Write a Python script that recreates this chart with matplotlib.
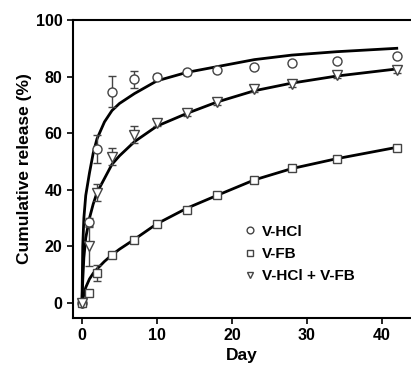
import numpy as np
import matplotlib
matplotlib.use('Agg')
import matplotlib.pyplot as plt

plt.rcParams['font.family'] = ['Liberation Sans', 'DejaVu Sans']
plt.rcParams['font.weight'] = 'bold'

# measured points
days = [0, 1, 2, 4, 7, 10, 14, 18, 23, 28, 34, 42]
hcl = [0, 28.6, 54.4, 74.6, 79, 80, 81.5, 82.3, 83.4, 84.8, 85.5, 87.3]
hcl_err = [0, 1.5, 5, 5.5, 3, 1, 0.8, 0.8, 0.8, 0.8, 0.8, 0.8]
fb = [0, 3.5, 10.6, 17, 22.3, 28, 33, 38, 43.5, 47.7, 50.9, 54.8]
fb_err = [0, 1, 3, 1, 1, 1, 1, 1, 1, 1, 1, 1]
mix = [0, 20, 39, 51.6, 59.4, 63.6, 67.1, 71, 75.6, 77.4, 80.6, 82.3]
mix_err = [0, 7, 3, 3, 3, 1, 1, 1, 1, 1, 1, 1]

# fitted curves
fit_days = [0, 0.1, 0.25, 0.5, 1, 1.5, 2, 3, 4, 5, 7, 10, 14, 18, 23, 28, 34, 42]
hcl_fit = [0, 20, 30, 38, 46, 53, 58, 64, 68, 70.5, 74, 78.5, 81.5, 83.5, 86, 87.6, 88.8, 90]
fb_fit = [0, 1.2, 3, 5.5, 8.5, 10.5, 12, 14.7, 17, 19, 22.5, 28, 33.5, 38, 43.5, 47.5, 51, 55]
mix_fit = [0, 8, 16, 23, 30, 35, 39, 44, 49, 52, 57, 62.5, 67, 71, 75, 77.7, 80.2, 82.7]

fig = plt.figure(figsize=(4.11, 3.65), dpi=100)
ax = fig.add_axes([73 / 411, 47 / 365, 1 - 73 / 411, 298 / 365])

ax.plot(fit_days, hcl_fit, color='black', lw=2, zorder=2)
ax.plot(fit_days, fb_fit, color='black', lw=2, zorder=2)
ax.plot(fit_days, mix_fit, color='black', lw=2, zorder=2)

ax.errorbar(days, hcl, yerr=hcl_err, fmt='o', mfc='white', mec='#444444', ms=6.5,
            ecolor='#444444', elinewidth=1, capsize=3, label='V-HCl', zorder=3)
ax.errorbar(days, fb, yerr=fb_err, fmt='s', mfc='white', mec='#444444', ms=6,
            ecolor='#444444', elinewidth=1, capsize=3, label='V-FB', zorder=3)
ax.errorbar(days, mix, yerr=mix_err, fmt='v', mfc='white', mec='#444444', ms=6.5,
            ecolor='#444444', elinewidth=1, capsize=3, label='V-HCl + V-FB', zorder=3)

ax.set_xlim(-1.2, 43.9)
ax.set_ylim(-5.3, 100)
ax.set_xticks([0, 10, 20, 30, 40])
ax.set_yticks([0, 20, 40, 60, 80, 100])
ax.spines['right'].set_visible(False)
for s in ['left', 'bottom', 'top']:
    ax.spines[s].set_linewidth(1.5)
ax.tick_params(direction='out', length=4, width=1.2, labelsize=11.5)
ax.tick_params(axis='x', top=False)
ax.set_xlabel('Day', fontsize=12.5, fontweight='bold', labelpad=3)
ax.set_ylabel('Cumulative release (%)', fontsize=12.5, fontweight='bold', labelpad=3)

handles, labels = ax.get_legend_handles_labels()
leg = ax.legend([h[0] for h in handles], labels, loc='lower left',
                bbox_to_anchor=(0.46, 0.07), frameon=False, fontsize=11,
                handletextpad=0.3, markerscale=0.75, labelspacing=0.55,
                handlelength=1)

fig.savefig('out.png', dpi=100)
